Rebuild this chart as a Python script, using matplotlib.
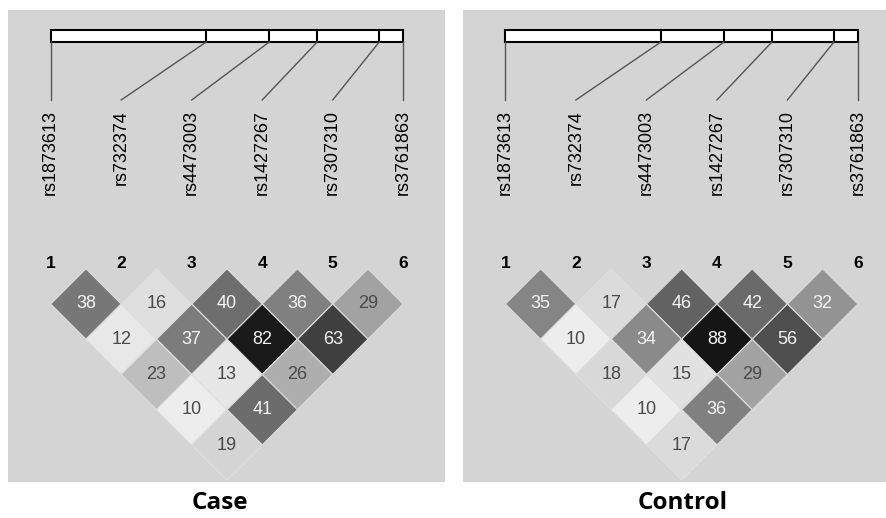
import matplotlib.pyplot as plt
import numpy as np
from matplotlib.patches import Polygon, Rectangle

# SNP markers (same for both panels)
snp_names = ['rs1873613', 'rs732374', 'rs4473003', 'rs1427267', 'rs7307310', 'rs3761863']
# relative physical position of each SNP along the region (0 = first, 1 = last)
map_pos = [0.0, 0.441, 0.620, 0.756, 0.932, 1.0]

# pairwise LD (r^2 x 100), row k holds pairs (i, i + k + 1)
case_ld = [
    [38, 16, 40, 36, 29],
    [12, 37, 82, 63],
    [23, 13, 26],
    [10, 41],
    [19],
]
control_ld = [
    [35, 17, 46, 42, 32],
    [10, 34, 88, 56],
    [18, 15, 29],
    [10, 36],
    [17],
]
panel_titles = ['Case', 'Control']

# grey level for a given LD value (scan has boosted contrast)
shade_vals = [0, 10, 13, 16, 19, 23, 26, 29, 36, 40, 63, 82, 100]
shade_grey = [248, 237, 230, 223, 212, 190, 174, 162, 128, 110, 64, 26, 10]


def ld_colour(v):
    g = np.interp(v, shade_vals, shade_grey) / 255.0
    return (g, g, g)


def draw_panel(ax, ld_rows):
    n = len(snp_names)
    pos_x = [1 + p * (n - 1) for p in map_pos]

    # chromosome bar
    bar_top, bar_bot = -3.387, -3.216
    ax.add_patch(Rectangle((1, bar_top), n - 1, bar_bot - bar_top,
                           facecolor='white', edgecolor='black', linewidth=1.5))
    for x in pos_x[1:-1]:
        ax.plot([x, x], [bar_top, bar_bot], color='black', linewidth=1.5)

    # connectors from physical position to marker column
    for i, x in enumerate(pos_x):
        ax.plot([x, i + 1], [bar_bot, -2.394], color='#555555', linewidth=1)

    for i, name in enumerate(snp_names):
        ax.text(i + 1, -2.252, name, rotation=90, ha='center', va='top',
                fontsize=13, family='Liberation Sans', color='black')
        ax.text(i + 1, -0.08, str(i + 1), ha='center', va='center',
                fontsize=12.5, fontweight='bold', family='Liberation Sans', color='black')

    # LD diamonds
    for k, row in enumerate(ld_rows):
        for i, v in enumerate(row):
            a, b = i + 1, i + k + 2
            cx, cy = (a + b) / 2, (b - a) * 0.5
            verts = [(cx, cy - 0.5), (cx + 0.5, cy), (cx, cy + 0.5), (cx - 0.5, cy)]
            ax.add_patch(Polygon(verts, closed=True, facecolor=ld_colour(v),
                                 edgecolor='#dedede', linewidth=0.8))
            ax.text(cx, cy, str(v), ha='center', va='center', fontsize=13,
                    family='Liberation Sans',
                    color='#f4f4f4' if v >= 30 else '#4a4a4a')


fig = plt.figure(figsize=(8.86, 5.18), dpi=100)
W, H = 886.0, 518.0
panel_boxes = [(8.3, 437.0), (463.0, 423.0)]
panel_top, panel_bot = 9.5, 482.0
title_x = [220, 683]

for (left, width), ld_rows, title, tx in zip(panel_boxes, [case_ld, control_ld],
                                             panel_titles, title_x):
    ax = fig.add_axes([left / W, 1 - panel_bot / H, width / W, (panel_bot - panel_top) / H])
    ax.set_facecolor('#d4d4d4')
    unit = 70.5
    x0 = 1 - (50.7 - 8.3) / unit
    ax.set_xlim(x0, x0 + width / unit)
    ax.set_ylim((panel_bot - 268.75) / unit, (panel_top - 268.75) / unit)
    ax.set_xticks([])
    ax.set_yticks([])
    for s in ax.spines.values():
        s.set_visible(False)
    draw_panel(ax, ld_rows)
    fig.text(tx / W, 1 - 503 / H, title, ha='center', va='center',
             fontsize=17.5, fontweight='bold', family='Open Sans', color='black')

fig.savefig('out.png', dpi=100, facecolor='white')
